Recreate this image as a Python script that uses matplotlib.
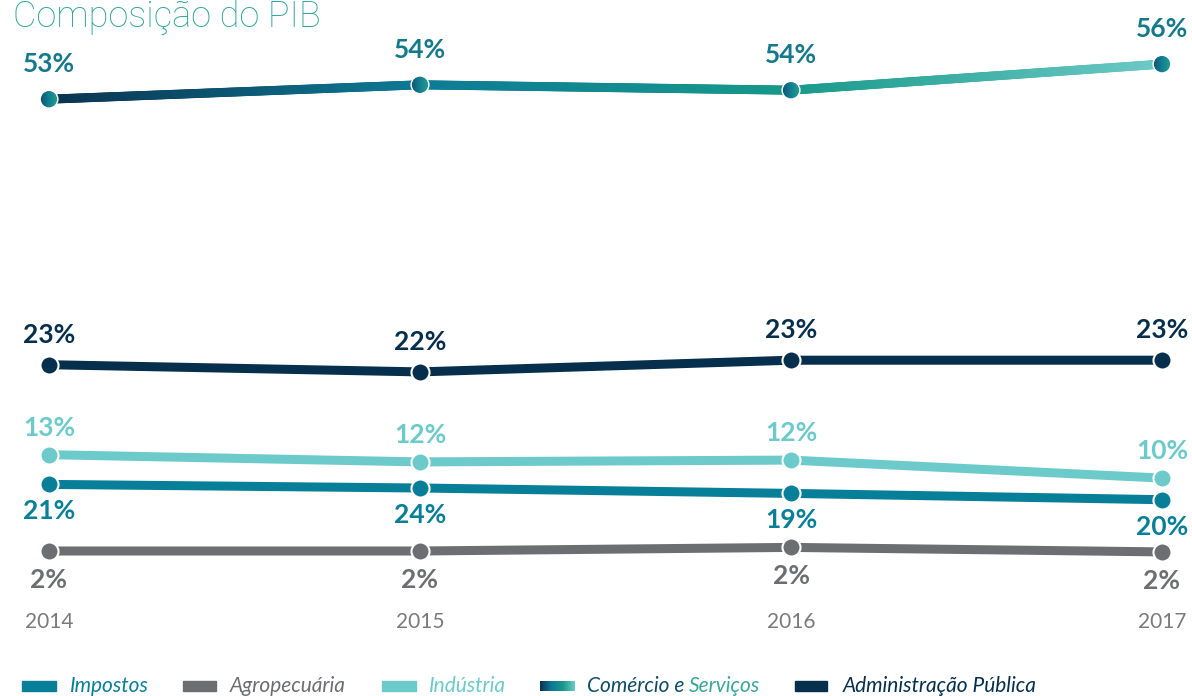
import numpy as np
import matplotlib
matplotlib.use("Agg")
import matplotlib.pyplot as plt
from matplotlib.collections import LineCollection
from matplotlib.colors import LinearSegmentedColormap
from matplotlib.patches import Rectangle, Ellipse

# ---------------- data ----------------
years = ["2014", "2015", "2016", "2017"]

# plotted levels (as drawn in the reference)
comercio_plot = [52.2, 53.8, 53.2, 56.1]
admin_plot = [22.7, 21.9, 23.2, 23.2]
industria_plot = [12.7, 11.9, 12.1, 10.1]
impostos_plot = [9.4, 9.0, 8.4, 7.7]
agro_plot = [2.0, 2.0, 2.4, 1.9]

# printed labels (%)
comercio_lab = [53, 54, 54, 56]
admin_lab = [23, 22, 23, 23]
industria_lab = [13, 12, 12, 10]
impostos_lab = [21, 24, 19, 20]
agro_lab = [2, 2, 2, 2]

legend_names = ["Impostos", "Agropecuária", "Indústria", "Comércio e Serviços", "Administração Pública"]

# ---------------- style ----------------
C_IMP = "#077f99"
C_AGR = "#6d6e71"
C_IND = "#6ccacb"
C_ADM = "#062e4d"
C_COM_LAB = "#15798c"
grad = LinearSegmentedColormap.from_list(
    "com", [(0.0, "#0a3350"), (1/3, "#0d7a96"), (2/3, "#17998a"), (1.0, "#6cc9c6")])
mgrad = LinearSegmentedColormap.from_list("mk", ["#0b4f70", "#137f92", "#25a38e"])

plt.rcParams["font.family"] = ["Lato", "DejaVu Sans"]

W, H = 1192, 696
fig = plt.figure(figsize=(W/100, H/100), dpi=100)
ax = fig.add_axes([0, 0, 1, 1])
ax.axis("off")
step = 371.0
ypx = 9.0
XL = (-49/step, 3 + 30/step)
YL = (2 - 145/ypx, 2 + 551/ypx)
ax.set_xlim(*XL)
ax.set_ylim(*YL)

x = np.arange(len(years))
LW = 6.5
MS = 13

def plain_series(vals, color, z):
    ax.plot(x, vals, color=color, lw=LW, solid_capstyle="butt", zorder=z)
    ax.plot(x, vals, ls="none", marker="o", ms=MS, mfc=color, mec="white",
            mew=1.5, zorder=z + 0.5)

plain_series(agro_plot, C_AGR, 2)
plain_series(impostos_plot, C_IMP, 3)
plain_series(industria_plot, C_IND, 4)
plain_series(admin_plot, C_ADM, 5)

# gradient line for Comércio e Serviços
xs = np.linspace(0, 3, 600)
ys = np.interp(xs, x, comercio_plot)
pts = np.column_stack([xs, ys]).reshape(-1, 1, 2)
segs = np.concatenate([pts[:-1], pts[1:]], axis=1)
lc = LineCollection(segs, cmap=grad, linewidths=LW, capstyle="round", zorder=6)
lc.set_array(xs[:-1] / 3)
lc.set_clim(0, 1)
ax.add_collection(lc)

# gradient markers
r_px = 9.6
for xi, v in zip(x, comercio_plot):
    rx, ry = r_px/step, r_px/ypx
    ring = Ellipse((xi, v), 2*rx, 2*ry, facecolor="white", edgecolor="none", zorder=7)
    ax.add_patch(ring)
    inner = Ellipse((xi, v), 2*rx*0.85, 2*ry*0.85, facecolor="none", edgecolor="none",
                    zorder=7.5)
    ax.add_patch(inner)
    im = ax.imshow(np.linspace(0, 1, 50).reshape(1, -1), cmap=mgrad, aspect="auto",
                   extent=(xi - rx, xi + rx, v - ry, v + ry), zorder=8,
                   interpolation="bilinear")
    im.set_clip_path(inner)
ax.set_xlim(*XL)
ax.set_ylim(*YL)

# ---------------- value labels ----------------
def labels(vals, labs, color, dy):
    for xi, v, l in zip(x, vals, labs):
        ax.annotate(f"{l}%", (xi, v), xytext=(0, dy), textcoords="offset pixels",
                    ha="center", va="center", fontsize=19, fontweight="bold",
                    color=color, zorder=10)

labels(comercio_plot, comercio_lab, C_COM_LAB, 35)
labels(admin_plot, admin_lab, C_ADM, 30)
labels(industria_plot, industria_lab, C_IND, 27)
labels(impostos_plot, impostos_lab, C_IMP, -27)
labels(agro_plot, agro_lab, C_AGR, -29)

# ---------------- year labels ----------------
for xi, yr in zip(x, years):
    ax.text(xi, 1 - 622/H, yr, transform=ax.get_xaxis_transform(),
            ha="center", va="center", fontsize=15, color="#7a7a7a")

# ---------------- title ----------------
fig.text(13/W, 1 - 27/H, "Composição do PIB", ha="left", va="baseline",
         fontsize=26, fontweight="light", color="#2ea597",
         family=["Roboto", "DejaVu Sans"])

# ---------------- legend ----------------
leg_y = 686
patch_h = 10
FS_LEG = 15
leg = [
    (22, 56, 70, C_IMP),
    (183, 216, 230, C_AGR),
    (382, 416, 429, C_IND),
    (540, 575, 587, None),
    (795, 827, 843, C_ADM),
]
for (px0, px1, tx, col), name in zip(leg, legend_names):
    y0 = 1 - (leg_y + patch_h/2)/H
    if col is not None:
        fig.patches.append(Rectangle((px0/W, y0), (px1 - px0)/W, patch_h/H,
                                     transform=fig.transFigure, color=col))
        fig.text(tx/W, 1 - leg_y/H, name, ha="left", va="center", fontsize=FS_LEG,
                 fontstyle="italic", fontweight="normal", color=col)
    else:
        gax = fig.add_axes([px0/W, y0, (px1 - px0)/W, patch_h/H])
        gax.imshow(np.linspace(0, 1, 100).reshape(1, -1), cmap=grad, aspect="auto")
        gax.axis("off")
        t1 = fig.text(tx/W, 1 - leg_y/H, "Comércio e ", ha="left", va="center",
                      fontsize=FS_LEG, fontstyle="italic", fontweight="normal",
                      color="#0f4c68")
        r = fig.canvas.get_renderer()
        bb = t1.get_window_extent(renderer=r)
        fig.text(bb.x1/W, 1 - leg_y/H, "Serviços", ha="left", va="center",
                 fontsize=FS_LEG, fontstyle="italic", fontweight="normal",
                 color="#3aa898")

fig.savefig("out.png", dpi=100)
